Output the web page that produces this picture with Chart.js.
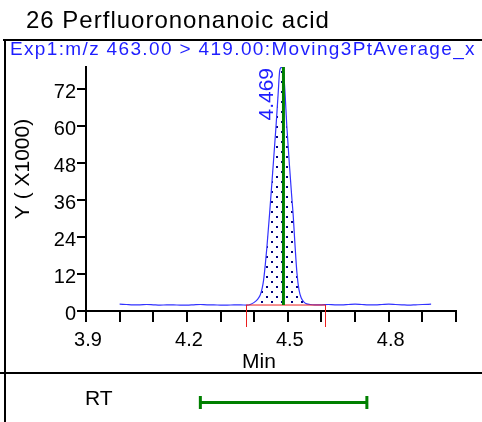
<!DOCTYPE html>
<html lang="en">

<head>
    <meta charset="UTF-8">
    <title>26 Perfluorononanoic acid</title>
    <script src="https://cdn.jsdelivr.net/npm/chart.js"></script>
    <style>
        body { margin: 0; background: #fff; }
        canvas { display: block; }
    </style>
</head>

<body>
    <canvas id="myChart" width="482" height="422"></canvas>
    <script>
        /* Datos del cromatograma (intensidad en miles) */
        const compoundTitle = '26 Perfluorononanoic acid';
        const traceTitle = 'Exp1:m/z 463.00 > 419.00:Moving3PtAverage_x';

        const retentionTimes = [
            4.000, 4.020, 4.040, 4.060, 4.080, 4.100, 4.120, 4.140, 4.160, 4.180,
            4.200, 4.220, 4.240, 4.260, 4.280, 4.300, 4.320, 4.340, 4.360, 4.378,
            4.390, 4.400, 4.410, 4.418, 4.424, 4.428, 4.433, 4.438, 4.446, 4.455,
            4.465, 4.471, 4.476, 4.481, 4.486, 4.491, 4.497, 4.505, 4.511, 4.516,
            4.521, 4.527, 4.533, 4.540, 4.548, 4.556, 4.566, 4.580, 4.600, 4.620,
            4.640, 4.660, 4.680, 4.700, 4.720, 4.740, 4.760, 4.780, 4.800, 4.820,
            4.840, 4.860, 4.880, 4.900, 4.926
        ];
        const intensities = [
            2.2, 2.1, 2.0, 2.0, 2.1, 2.0, 1.9, 2.0, 2.0, 1.9,
            1.9, 2.0, 2.1, 2.0, 2.0, 1.9, 1.9, 2.0, 2.0, 1.9,
            2.2, 2.8, 3.8, 5.2, 7.5, 10.0, 15.0, 20.9, 31.8, 45.0,
            60.0, 70.0, 78.0, 79.0, 78.5, 72.0, 60.0, 47.0, 38.0, 31.0,
            22.0, 12.5, 7.0, 4.2, 2.9, 2.3, 2.1, 2.0, 2.0, 2.1,
            2.0, 2.0, 2.1, 2.2, 2.1, 2.0, 2.0, 2.1, 2.2, 2.1,
            2.0, 1.9, 2.0, 2.1, 2.2
        ];

        const peakRT = 4.487;
        const peakLabel = '4.469';
        const integrationWindow = [4.376, 4.612];
        const integrationLevel = 1.94;
        const rtWindow = [4.237, 4.738];

        const xTickValues = [3.9, 4.0, 4.1, 4.2, 4.3, 4.4, 4.5, 4.6, 4.7, 4.8, 4.9, 5.0];
        const xTickLabels = ['3.9', '4.2', '4.5', '4.8'];
        const yTickValues = [0, 12, 24, 36, 48, 60, 72];
        const xRange = [3.9, 5.0];
        const yRange = [0, 79.1];

        const FONT = '"Liberation Sans", Arial, sans-serif';

        /* Trama de puntos para el área integrada */
        function dotPattern() {
            const c = document.createElement('canvas');
            c.width = 10; c.height = 10;
            const g = c.getContext('2d');
            g.fillStyle = '#000080';
            g.fillRect(1, 1, 2, 2);
            g.fillRect(6, 6, 2, 2);
            return g.createPattern(c, 'repeat');
        }

        const trace = retentionTimes.map((t, i) => ({ x: t, y: intensities[i] }));
        const peakArea = trace.filter(p => p.x >= integrationWindow[0] && p.x <= integrationWindow[1]);

        const decorations = {
            id: 'decorations',
            afterDraw(chart) {
                const ctx = chart.ctx;
                const xs = chart.scales.x, ys = chart.scales.y;
                ctx.save();

                // marco
                ctx.strokeStyle = '#000';
                ctx.lineWidth = 2;
                ctx.beginPath();
                ctx.moveTo(3, 40); ctx.lineTo(482, 40);
                ctx.moveTo(0, 373); ctx.lineTo(482, 373);
                ctx.moveTo(5, 40); ctx.lineTo(5, 422);
                ctx.stroke();

                // líneas rojas de integración bajo el eje
                ctx.strokeStyle = 'rgb(235,30,30)';
                ctx.lineWidth = 1;
                ctx.beginPath();
                integrationWindow.forEach(t => {
                    const px = Math.round(xs.getPixelForValue(t)) + 0.5;
                    ctx.moveTo(px, ys.getPixelForValue(integrationLevel));
                    ctx.lineTo(px, 327);
                });
                ctx.stroke();

                // textos
                ctx.textBaseline = 'alphabetic';
                ctx.fillStyle = '#000';
                ctx.font = '24px ' + FONT;
                ctx.letterSpacing = '1px';
                ctx.fillText(compoundTitle, 26, 28);

                ctx.fillStyle = 'rgb(30,30,255)';
                ctx.font = '19px ' + FONT;
                ctx.letterSpacing = '1.35px';
                ctx.fillText(traceTitle, 10, 55);
                ctx.letterSpacing = '0px';

                ctx.fillStyle = '#000';
                ctx.font = '21px ' + FONT;
                ctx.textAlign = 'center';
                ctx.fillText('Min', 259, 368);
                ctx.textAlign = 'left';
                ctx.fillText('RT', 85, 405);

                ctx.save();
                ctx.translate(29, 169);
                ctx.rotate(-Math.PI / 2);
                ctx.textAlign = 'center';
                ctx.fillText('Y ( X1000)', 0, 0);
                ctx.restore();

                ctx.save();
                ctx.fillStyle = 'rgb(30,30,255)';
                ctx.translate(xs.getPixelForValue(peakRT) - 10, chart.chartArea.top + 1);
                ctx.rotate(-Math.PI / 2);
                ctx.textAlign = 'right';
                ctx.fillText(peakLabel, 0, 0);
                ctx.restore();

                // ventana RT
                const a = xs.getPixelForValue(rtWindow[0]);
                const b = xs.getPixelForValue(rtWindow[1]);
                ctx.strokeStyle = 'rgb(0,128,0)';
                ctx.lineWidth = 3;
                ctx.beginPath();
                ctx.moveTo(a, 402.5); ctx.lineTo(b, 402.5);
                ctx.moveTo(a + 1, 396); ctx.lineTo(a + 1, 409);
                ctx.moveTo(b - 1, 396); ctx.lineTo(b - 1, 409);
                ctx.stroke();

                ctx.restore();
            }
        };

        const config = {
            type: 'line',
            data: {
                datasets: [
                    {
                        label: 'RT',
                        data: [{ x: peakRT, y: integrationLevel }, { x: peakRT, y: yRange[1] }],
                        borderColor: 'rgb(0,128,0)',
                        borderWidth: 3,
                        pointRadius: 0,
                        order: 0
                    },
                    {
                        label: 'Baseline',
                        data: [{ x: integrationWindow[0], y: integrationLevel }, { x: integrationWindow[1], y: integrationLevel }],
                        borderColor: 'rgb(235,30,30)',
                        borderWidth: 1,
                        pointRadius: 0,
                        order: 1
                    },
                    {
                        label: 'Trace',
                        data: trace,
                        borderColor: 'rgb(50,50,255)',
                        borderWidth: 1.2,
                        pointRadius: 0,
                        cubicInterpolationMode: 'monotone',
                        order: 2
                    },
                    {
                        label: 'Area',
                        data: peakArea,
                        borderWidth: 0,
                        borderColor: 'rgba(0,0,0,0)',
                        backgroundColor: dotPattern(),
                        fill: { value: integrationLevel },
                        pointRadius: 0,
                        cubicInterpolationMode: 'monotone',
                        order: 3
                    }
                ]
            },
            options: {
                responsive: false,
                animation: false,
                layout: { padding: { top: 67, right: 26, bottom: 0, left: 0 } },
                plugins: { legend: { display: false }, tooltip: { enabled: false } },
                scales: {
                    x: {
                        type: 'linear',
                        min: xRange[0],
                        max: xRange[1],
                        afterBuildTicks: s => { s.ticks = xTickValues.map(v => ({ value: v })); },
                        afterFit: s => { s.height = 111; },
                        border: { display: true, color: '#000', width: 2 },
                        grid: { drawOnChartArea: false, drawTicks: true, tickLength: 11, color: '#000', lineWidth: 2 },
                        ticks: {
                            autoSkip: false,
                            maxRotation: 0,
                            minRotation: 0,
                            padding: 6,
                            labelOffset: 2,
                            color: '#000',
                            font: { family: FONT, size: 20 },
                            callback: v => {
                                const s = v.toFixed(1);
                                return xTickLabels.includes(s) ? s : '';
                            }
                        }
                    },
                    y: {
                        min: yRange[0],
                        max: yRange[1],
                        afterBuildTicks: s => { s.ticks = yTickValues.map(v => ({ value: v })); },
                        afterFit: s => { s.width = 86; },
                        border: { display: true, color: '#000', width: 2 },
                        grid: { drawOnChartArea: false, drawTicks: true, tickLength: 9, color: '#000', lineWidth: 2 },
                        ticks: {
                            padding: 1,
                            labelOffset: 3.5,
                            color: '#000',
                            font: { family: FONT, size: 20 }
                        }
                    }
                }
            },
            plugins: [decorations]
        };

        new Chart(document.getElementById('myChart'), config);
    </script>
</body>

</html>
